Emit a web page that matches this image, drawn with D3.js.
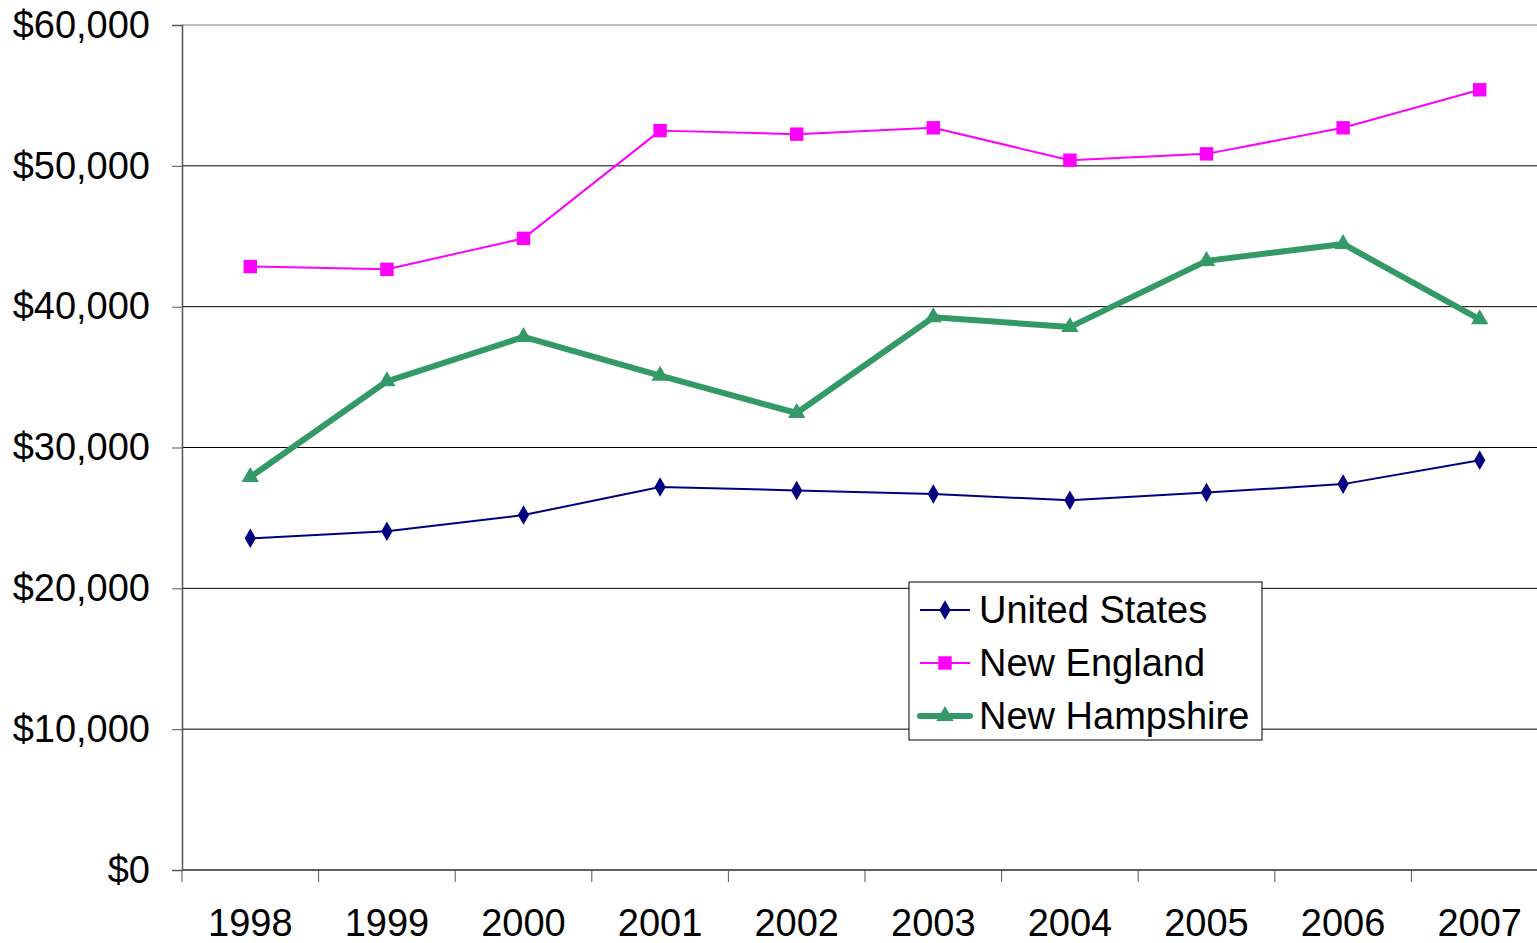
<!DOCTYPE html>
<html>
<head>
<meta charset="utf-8">
<script src="https://cdn.jsdelivr.net/npm/d3@7"></script>
<style>
  body { margin: 0; background: #fff; }
  svg { display: block; font-family: "Liberation Sans", Arial, sans-serif; }
</style>
</head>
<body>
<div id="chart"></div>
<script>
// data
var years = ["1998", "1999", "2000", "2001", "2002", "2003", "2004", "2005", "2006", "2007"];
var unitedStates  = [23550, 24050, 25200, 27200, 26950, 26700, 26250, 26800, 27400, 29100];
var newEngland    = [42850, 42650, 44850, 52500, 52250, 52700, 50400, 50850, 52700, 55400];
var newHampshire  = [27900, 34700, 37850, 35100, 32450, 39250, 38550, 43250, 44450, 39100];
var yTicks = [0, 10000, 20000, 30000, 40000, 50000, 60000];

var W = 1537, H = 943;
var margin = {top: 25, left: 182, bottom: 73};
var plotW = 1366; // runs slightly past the window, like the original

var svg = d3.select("#chart").append("svg")
    .attr("width", W)
    .attr("height", H);

var x = d3.scaleBand()
    .domain(years)
    .range([margin.left, margin.left + plotW]);

var y = d3.scaleLinear()
    .domain([0, 60000])
    .range([H - margin.bottom, margin.top]);

// gridlines
svg.append("g")
  .selectAll("line")
  .data(yTicks)
  .enter().append("line")
    .attr("x1", margin.left)
    .attr("x2", W)
    .attr("y1", function(d) { return y(d); })
    .attr("y2", function(d) { return y(d); })
    .attr("stroke", function(d) { return d === 60000 ? "#808080" : "#000"; })
    .attr("stroke-width", 1);

// y axis
var fmt = function(d) { return "$" + d3.format(",")(d); };
var yAxis = svg.append("g")
    .attr("transform", "translate(" + margin.left + ",0)")
    .call(d3.axisLeft(y).tickValues(yTicks).tickFormat(fmt).tickSize(10).tickPadding(22));
yAxis.select(".domain").attr("stroke", "#555").attr("stroke-width", 1.5);
yAxis.selectAll(".tick line").attr("stroke", "#555");
yAxis.selectAll("text")
    .attr("font-size", "38px")
    .attr("fill", "#000")
    .attr("font-family", "Liberation Sans, Arial, sans-serif");

// x axis with ticks between categories
var xAxis = svg.append("g")
    .attr("transform", "translate(0," + y(0) + ")");
xAxis.append("line")
    .attr("x1", margin.left)
    .attr("x2", W)
    .attr("stroke", "#555")
    .attr("stroke-width", 1.5);
xAxis.selectAll(".tk")
  .data(years)
  .enter().append("line")
    .attr("class", "tk")
    .attr("x1", function(d) { return x(d); })
    .attr("x2", function(d) { return x(d); })
    .attr("y1", 0)
    .attr("y2", 12)
    .attr("stroke", "#555");
xAxis.selectAll(".lbl")
  .data(years)
  .enter().append("text")
    .attr("class", "lbl")
    .attr("x", function(d) { return x(d) + x.bandwidth() / 2; })
    .attr("y", 66)
    .attr("text-anchor", "middle")
    .attr("font-size", "38px")
    .text(function(d) { return d; });

var series = [
  {name: "United States", values: unitedStates, color: "#000080", width: 2, shape: d3.symbolDiamond, size: 110},
  {name: "New England", values: newEngland, color: "#FF00FF", width: 2, shape: d3.symbolSquare, size: 180},
  {name: "New Hampshire", values: newHampshire, color: "#339966", width: 6, shape: d3.symbolTriangle, size: 130}
];

var line = d3.line()
    .x(function(d, i) { return x(years[i]) + x.bandwidth() / 2; })
    .y(function(d) { return y(d); });

series.forEach(function(s) {
  svg.append("path")
      .datum(s.values)
      .attr("d", line)
      .attr("fill", "none")
      .attr("stroke", s.color)
      .attr("stroke-width", s.width)
      .attr("stroke-linejoin", "round");

  svg.append("g").selectAll("path")
    .data(s.values)
    .enter().append("path")
      .attr("transform", function(d, i) {
        return "translate(" + (x(years[i]) + x.bandwidth() / 2) + "," + y(d) + ")";
      })
      .attr("d", d3.symbol().type(s.shape).size(s.size))
      .attr("fill", s.color);
});

// legend
var lg = svg.append("g").attr("transform", "translate(909,582)");
lg.append("rect")
    .attr("width", 353)
    .attr("height", 158)
    .attr("fill", "#fff")
    .attr("stroke", "#000")
    .attr("stroke-width", 1);

series.forEach(function(s, i) {
  var ly = 28 + i * 53;
  lg.append("line")
      .attr("x1", 11)
      .attr("x2", 61)
      .attr("y1", ly)
      .attr("y2", ly)
      .attr("stroke", s.color)
      .attr("stroke-width", s.width)
      .attr("stroke-linecap", i === 2 ? "round" : "butt");
  lg.append("path")
      .attr("transform", "translate(36," + ly + ")")
      .attr("d", d3.symbol().type(s.shape).size(s.size))
      .attr("fill", s.color);
  lg.append("text")
      .attr("x", 70)
      .attr("y", ly + 13)
      .attr("font-size", "38px")
      .text(s.name);
});
</script>
</body>
</html>
